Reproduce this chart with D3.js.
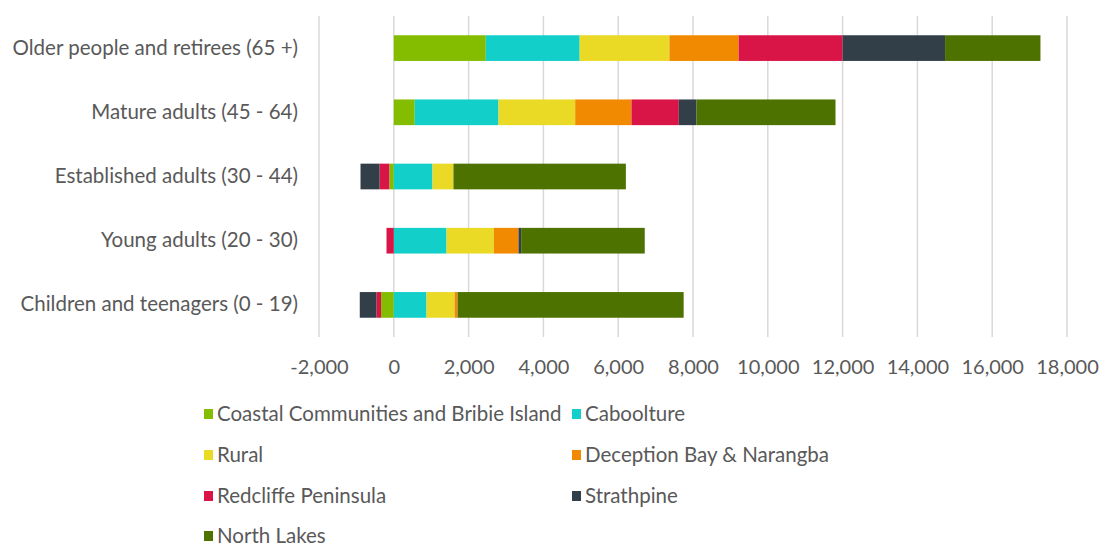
<!DOCTYPE html>
<html>
<head>
<meta charset="utf-8">
<script src="https://cdn.jsdelivr.net/npm/d3@7"></script>
<style>
  html, body { margin: 0; padding: 0; background: #fff; }
  svg { display: block; font-family: Lato, "Open Sans", sans-serif; }
</style>
</head>
<body>
<svg id="chart" width="1102" height="547"></svg>
<script>
// Age groups, top to bottom
const categories = [
  "Older people and retirees (65 +)",
  "Mature adults (45 - 64)",
  "Established adults (30 - 44)",
  "Young adults (20 - 30)",
  "Children and teenagers (0 - 19)"
];

// Population change per area, in the same order as the categories
const coastal    = [2460,  560, -120,    0, -340];
const caboolture = [2510, 2240, 1035, 1410,  875];
const rural      = [2400, 2050,  560, 1265,  750];
const deception  = [1850, 1505,    0,  660,   80];
const redcliffe  = [2780, 1265, -260, -195, -125];
const strathpine = [2740,  475, -510,   70, -445];
const northLakes = [2550, 3715, 4610, 3305, 6045];

const seriesNames = [
  "Coastal Communities and Bribie Island",
  "Caboolture",
  "Rural",
  "Deception Bay & Narangba",
  "Redcliffe Peninsula",
  "Strathpine",
  "North Lakes"
];
const seriesValues = [coastal, caboolture, rural, deception, redcliffe, strathpine, northLakes];
const seriesColors = ["#84BD00", "#12CFC9", "#EAD925", "#F18A00", "#D91446", "#323F48", "#4D7200"];

const tickValues = [-2000, 0, 2000, 4000, 6000, 8000, 10000, 12000, 14000, 16000, 18000];

// Build rows for d3.stack
const rows = categories.map((c, i) => {
  const r = { category: c };
  seriesNames.forEach((s, j) => { r[s] = seriesValues[j][i]; });
  return r;
});

const svg = d3.select("#chart");

const x = d3.scaleLinear().domain([-2000, 18000]).range([319, 1067]);
const y = d3.scaleBand().domain(categories).range([16, 337])
  .paddingInner(0.6).paddingOuter(0.3);
const color = d3.scaleOrdinal().domain(seriesNames).range(seriesColors);

// Vertical gridlines
svg.append("g")
  .selectAll("line")
  .data(tickValues)
  .join("line")
  .attr("x1", d => x(d)).attr("x2", d => x(d))
  .attr("y1", 16).attr("y2", 337)
  .attr("stroke", "#D9D9D9")
  .attr("stroke-width", 1.5);

// Stacked bars; negatives stack leftward from zero
const stacked = d3.stack()
  .keys(seriesNames)
  .offset(d3.stackOffsetDiverging)(rows);

svg.append("g")
  .selectAll("g")
  .data(stacked)
  .join("g")
  .attr("fill", d => color(d.key))
  .selectAll("rect")
  .data(d => d)
  .join("rect")
  .attr("x", d => x(Math.min(d[0], d[1])))
  .attr("width", d => Math.abs(x(d[1]) - x(d[0])))
  .attr("y", d => y(d.data.category))
  .attr("height", y.bandwidth());

// X axis tick labels (plain hyphen for negatives)
const fmt = d3.format(",");
const xAxis = d3.axisBottom(x)
  .tickValues(tickValues)
  .tickFormat(d => fmt(d).replace("\u2212", "-"))
  .tickSize(0)
  .tickPadding(0);

const gx = svg.append("g")
  .attr("transform", "translate(0,360)")
  .call(xAxis);
gx.select(".domain").remove();
gx.selectAll("text")
  .attr("fill", "#595959")
  .style("font-size", "20px")
  .style("font-family", "Lato, 'Open Sans', sans-serif");

// Y axis category labels
const yAxis = d3.axisLeft(y).tickSize(0).tickPadding(0);
const gy = svg.append("g")
  .attr("transform", "translate(298,0)")
  .call(yAxis);
gy.select(".domain").remove();
gy.selectAll("text")
  .attr("fill", "#595959")
  .style("font-size", "20.5px")
  .style("font-family", "Lato, 'Open Sans', sans-serif");

// Legend: two columns
const legendCols = [204, 572];
const legendRowY = [414, 455, 496, 536];
const legend = svg.append("g")
  .selectAll("g")
  .data(seriesNames)
  .join("g")
  .attr("transform", (d, i) => `translate(${legendCols[i % 2]},${legendRowY[Math.floor(i / 2)]})`);

legend.append("rect")
  .attr("x", 0).attr("y", -5)
  .attr("width", 9).attr("height", 10)
  .attr("fill", d => color(d));

legend.append("text")
  .attr("x", 13)
  .attr("dy", "0.35em")
  .attr("fill", "#595959")
  .style("font-size", "20.5px")
  .text(d => d);
</script>
</body>
</html>
